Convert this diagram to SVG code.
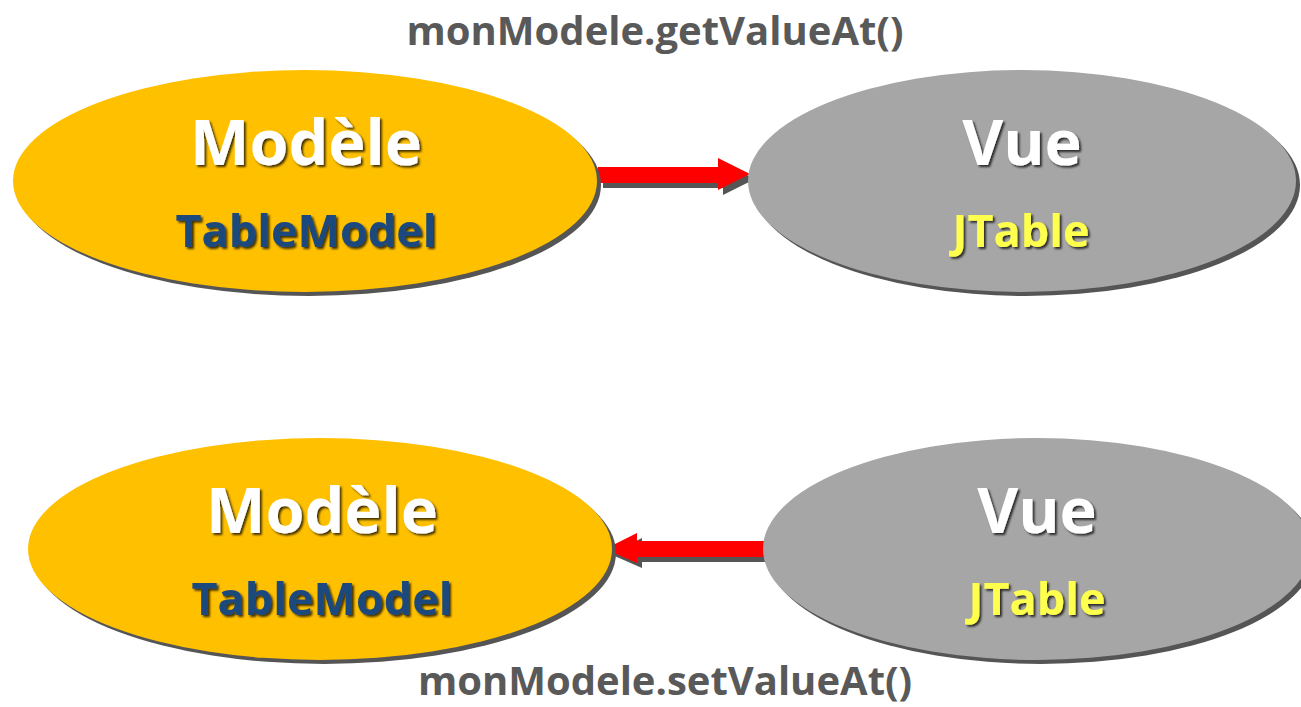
<svg xmlns="http://www.w3.org/2000/svg" width="1301" height="707" viewBox="0 0 1301 707">
<defs>
<style>
.title{font-family:"Open Sans","Liberation Sans",sans-serif;font-weight:bold;font-size:40px;fill:#595959;text-anchor:middle}
.big{font-family:"Open Sans","Liberation Sans",sans-serif;font-weight:bold;font-size:63px;fill:#ffffff;text-anchor:middle;filter:url(#ts)}
.sub{font-family:"Open Sans","Liberation Sans",sans-serif;font-weight:bold;font-size:45px;text-anchor:middle;filter:url(#ts)}
.shadow{fill:#555555}
.model{fill:#FFC000}
.view{fill:#A6A6A6}
.arrow{fill:#FF0000}
</style>
<filter id="ts" x="-10%" y="-20%" width="130%" height="150%">
<feDropShadow dx="2" dy="2" stdDeviation="1" flood-color="#000000" flood-opacity="0.75"/>
</filter>
</defs>
<rect width="1301" height="707" fill="#ffffff"/>
<text class="title" x="655" y="45">monModele.getValueAt()</text>
<text class="title" x="665" y="695">monModele.setValueAt()</text>
<g id="connectors">
<path class="shadow" d="M603,172 L723,172 L723,163 L755,179 L723,195 L723,188 L603,188 Z"/>
<path class="arrow" d="M598,167 L718,167 L718,158 L750,174 L718,190 L718,183 L598,183 Z"/>
<path class="shadow" d="M770,546 L642,546 L642,538 L610,554 L642,568 L642,562 L770,562 Z"/>
<path class="arrow" d="M765,541 L637,541 L637,533 L605,549 L637,563 L637,557 L765,557 Z"/>
</g>
<g id="modele-top">
<ellipse class="shadow" cx="309" cy="185" rx="292" ry="111"/>
<ellipse class="model" cx="305" cy="181" rx="292" ry="111"/>
<text class="big" x="306" y="165">Modèle</text>
<text class="sub" x="306" y="247" fill="#1F497D">TableModel</text>
</g>
<g id="vue-top">
<ellipse class="shadow" cx="1026" cy="185" rx="274" ry="111"/>
<ellipse class="view" cx="1022" cy="181" rx="274" ry="111"/>
<text class="big" x="1022" y="165">Vue</text>
<text class="sub" x="1021" y="247" fill="#FFFF4D">JTable</text>
</g>
<g id="modele-bottom">
<ellipse class="shadow" cx="324" cy="553" rx="292" ry="111"/>
<ellipse class="model" cx="320" cy="549" rx="292" ry="111"/>
<text class="big" x="322" y="533">Modèle</text>
<text class="sub" x="322" y="615" fill="#1F497D">TableModel</text>
</g>
<g id="vue-bottom">
<ellipse class="shadow" cx="1041" cy="553" rx="274" ry="111"/>
<ellipse class="view" cx="1037" cy="549" rx="274" ry="111"/>
<text class="big" x="1037" y="533">Vue</text>
<text class="sub" x="1037" y="615" fill="#FFFF4D">JTable</text>
</g>
</svg>
